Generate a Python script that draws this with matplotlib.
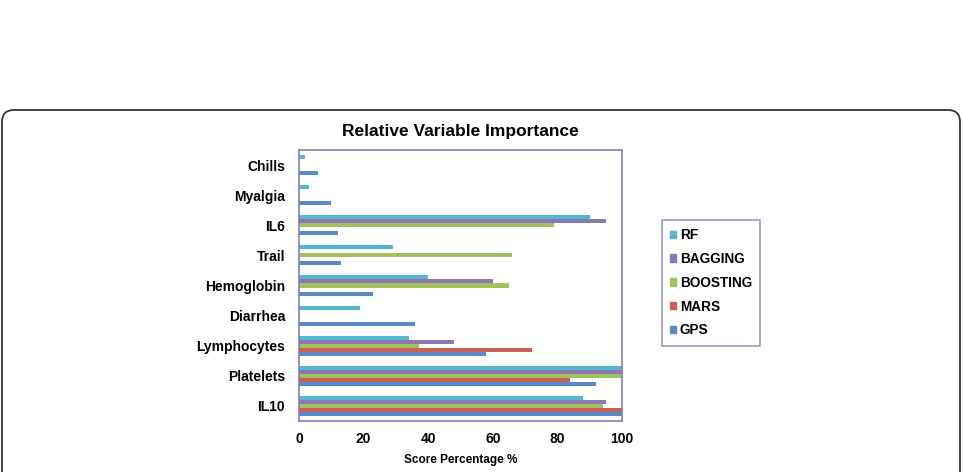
import numpy as np
import matplotlib
matplotlib.use("Agg")
import matplotlib.pyplot as plt
from matplotlib.patches import FancyBboxPatch, Patch
from matplotlib.transforms import IdentityTransform

plt.rcParams['font.family'] = ['Liberation Sans', 'DejaVu Sans']
plt.rcParams['font.weight'] = 'bold'

# categories from top to bottom
variables = ['Chills', 'Myalgia', 'IL6', 'Trail', 'Hemoglobin', 'Diarrhea',
             'Lymphocytes', 'Platelets', 'IL10']
methods = ['RF', 'BAGGING', 'BOOSTING', 'MARS', 'GPS']

rf = [2, 3, 90, 29, 40, 19, 34, 100, 88]
bagging = [0, 0, 95, 0, 60, 0, 48, 100, 95]
boosting = [0, 0, 79, 66, 65, 0, 37, 100, 94]
mars = [0, 0, 0, 0, 0, 0, 72, 84, 100]
gps = [6, 10, 12, 13, 23, 36, 58, 92, 100]

colors = ['#55B6CF', '#8B78B3', '#A2C05C', '#CA5F55', '#5A8AC6']
frame_col = '#857DB8'

fig = plt.figure(figsize=(9.63, 4.72), dpi=100)

# rounded frame around the figure panel
box = FancyBboxPatch((2, -30), 958, 392, boxstyle='round,pad=0,rounding_size=12',
                     transform=IdentityTransform(), fill=False,
                     edgecolor='#333333', linewidth=1.3)
fig.patches.append(box)

ax = fig.add_axes([299 / 963, 1 - 421 / 472, 323 / 963, 271 / 472])

y = np.arange(len(variables))
step = 0.134
for k, (vals, col) in enumerate(zip([rf, bagging, boosting, mars, gps], colors)):
    ax.barh(y + (k - 2) * step, vals, height=step, color=col, label=methods[k])

ax.set_ylim(len(variables) - 0.5, -0.5)
ax.set_xlim(0, 100)
ax.set_xticks([0, 20, 40, 60, 80, 100])
ax.set_yticks(y)
ax.set_yticklabels(variables, fontsize=10, fontweight='bold')
ax.tick_params(axis='x', labelsize=10, length=0, pad=8)
ax.tick_params(axis='y', length=0, pad=10)
for s in ax.spines.values():
    s.set_color(frame_col)
    s.set_linewidth(1.2)

ax.set_xlabel('Score Percentage %', fontsize=8.5, fontweight='bold', labelpad=6)
ax.set_title('Relative Variable Importance', fontsize=12.5, fontweight='bold', pad=10)

handles = [Patch(color=c) for c in colors]
leg = fig.legend(handles, methods, loc='upper left',
                 bbox_to_anchor=(662 / 963, 1 - 220 / 472),
                 prop={'size': 9.8, 'weight': 'bold'},
                 handlelength=0.45, handleheight=0.45, handletextpad=0.25,
                 labelspacing=0.72, borderpad=0.6, fancybox=False,
                 borderaxespad=0)
leg.get_frame().set_edgecolor(frame_col)
leg.get_frame().set_linewidth(1.2)

fig.savefig('out.png', dpi=100)
